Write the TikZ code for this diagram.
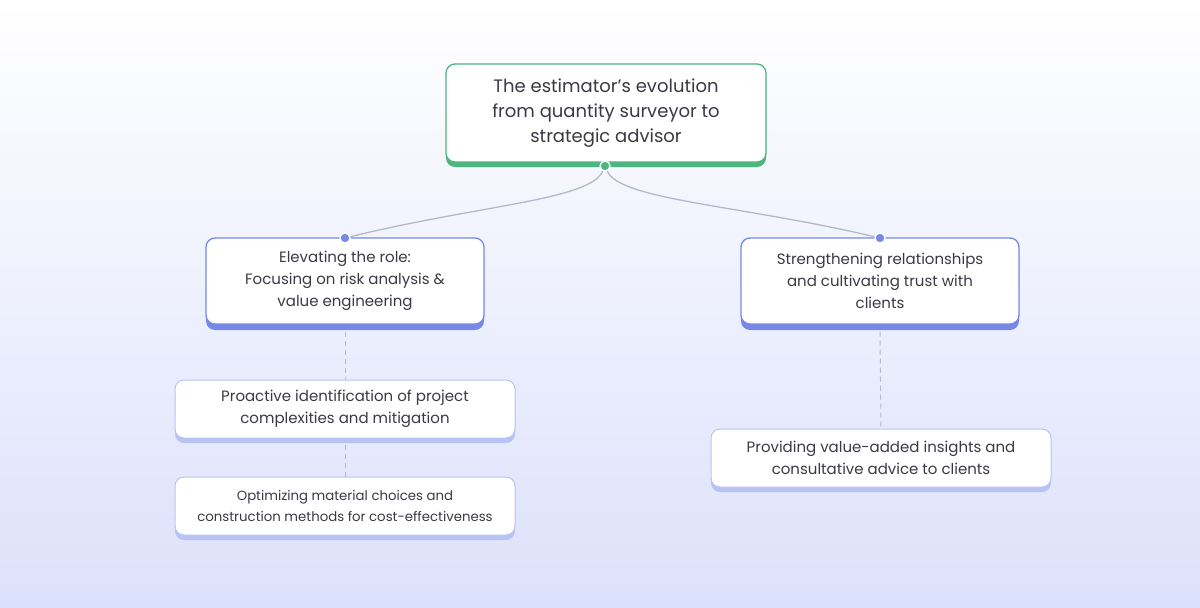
\documentclass[tikz,border=0pt]{standalone}
\usepackage{fontspec}
\setmainfont{Poppins}
\usetikzlibrary{shadows}
\definecolor{txt}{HTML}{3A3A45}
\definecolor{grn}{HTML}{4DB57E}
\definecolor{blu}{HTML}{7688E8}
\definecolor{lblu}{HTML}{B9C2F5}
\definecolor{bgb}{HTML}{DCE1FB}
\definecolor{lnk}{HTML}{B5B8C8}
\begin{document}
\begin{tikzpicture}[x=1pt,y=-1pt,
  base/.style={fill=white,rounded corners=9pt,text=txt,align=center,inner sep=0pt,line width=1.3pt},
  root/.style={base,draw=grn,general shadow={fill=grn,shadow yshift=-5pt},font=\fontsize{18}{25}\selectfont},
  lone/.style={base,draw=blu,general shadow={fill=blu,shadow yshift=-6pt},font=\fontsize{15}{22}\selectfont},
  ltwo/.style={base,draw=lblu,line width=1pt,general shadow={fill=lblu,shadow yshift=-5pt},font=\fontsize{15}{22}\selectfont},
  lthree/.style={base,draw=lblu,line width=1pt,general shadow={fill=lblu,shadow yshift=-5pt},font=\fontsize{13.3}{21}\selectfont},
  dot/.style={circle,inner sep=0pt,minimum size=10pt,draw=white,line width=1.3pt},
  link/.style={draw=lnk,line width=1.3pt},
  dashlink/.style={draw=lnk,line width=1pt,dash pattern=on 5pt off 4pt}]
\shade[top color=white,bottom color=bgb] (0,0) rectangle (1200,608);
\useasboundingbox (0,0) rectangle (1200,608);
\node[root,minimum width=320pt,minimum height=98pt] (r) at (606,113) {The estimator\symbol{39}s evolution\\from quantity surveyor to\\strategic advisor};
\node[lone,minimum width=278pt,minimum height=86pt] (a) at (345,281) {Elevating the role:\\Focusing on risk analysis \&\\value engineering};
\node[lone,minimum width=278pt,minimum height=86pt] (b) at (880,281) {Strengthening relationships\\and cultivating trust with\\clients};
\node[ltwo,minimum width=340pt,minimum height=58pt] (a1) at (345,409) {Proactive identification of project\\complexities and mitigation};
\node[lthree,minimum width=340pt,minimum height=58pt] (a2) at (345,506) {Optimizing material choices and\\construction methods for cost-effectiveness};
\node[ltwo,minimum width=340pt,minimum height=58pt] (b1) at (881,458) {Providing value-added insights and\\consultative advice to clients};
\node[dot,fill=grn] (dr) at (605,166) {};
\node[dot,fill=blu] (da) at (345,238) {};
\node[dot,fill=blu] (db) at (880,238) {};
\path[link] (dr) .. controls (590,200) and (480,205) .. (da);
\path[link] (dr) .. controls (620,200) and (740,205) .. (db);
\path[dashlink] ([yshift=-7pt]a.south) -- (a1.north);
\path[dashlink] ([yshift=-6pt]a1.south) -- (a2.north);
\path[dashlink] ([yshift=-7pt]b.south) -- (b1.north);
\end{tikzpicture}
\end{document}
